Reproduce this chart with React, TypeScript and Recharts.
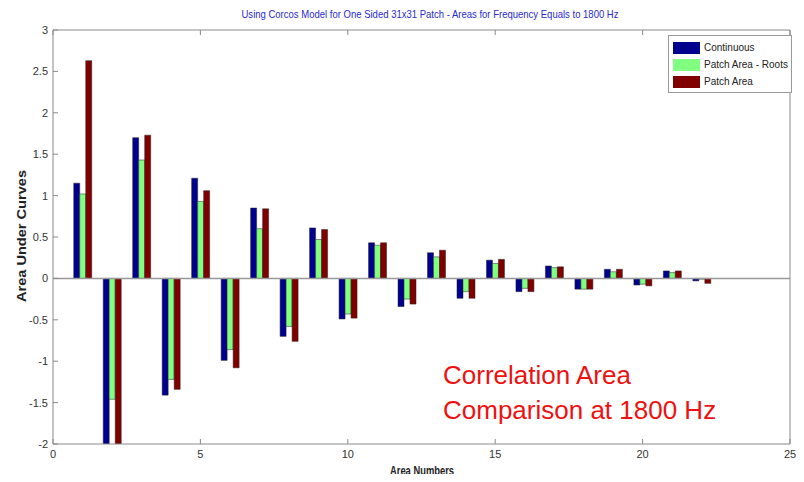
import React from 'react';
import { ComposedChart, Bar, XAxis, YAxis, ReferenceLine } from 'recharts';

const areaNumbers = [1, 2, 3, 4, 5, 6, 7, 8, 9, 10, 11, 12, 13, 14, 15, 16, 17, 18, 19, 20, 21, 22];
const continuous = [1.15, -2.1, 1.7, -1.41, 1.21, -0.99, 0.85, -0.7, 0.61, -0.49, 0.43, -0.34, 0.31, -0.24, 0.22, -0.16, 0.15, -0.13, 0.11, -0.08, 0.09, -0.03];
const patchRoots = [1.02, -1.46, 1.43, -1.22, 0.93, -0.86, 0.6, -0.58, 0.47, -0.43, 0.4, -0.25, 0.26, -0.16, 0.18, -0.12, 0.13, -0.13, 0.08, -0.07, 0.07, -0.01];
const patchArea = [2.63, -2.1, 1.73, -1.34, 1.06, -1.08, 0.84, -0.76, 0.59, -0.48, 0.43, -0.31, 0.34, -0.24, 0.23, -0.16, 0.14, -0.13, 0.11, -0.09, 0.09, -0.06];

const xTicks = [0, 5, 10, 15, 20, 25];
const yTicks = [-2, -1.5, -1, -0.5, 0, 0.5, 1, 1.5, 2, 2.5, 3];

const series = [
  { key: 'continuous', name: 'Continuous', color: '#00008f' },
  { key: 'roots', name: 'Patch Area - Roots', color: '#80ff80' },
  { key: 'patch', name: 'Patch Area', color: '#800000' },
];

const data = areaNumbers.map((n, i) => ({
  area: n,
  continuous: continuous[i],
  roots: patchRoots[i],
  patch: patchArea[i],
}));

const FONT = '"Liberation Sans", Arial, sans-serif';
const FRAME = '#8a8a8a';
const TICK_LEN = 5;

const LeftTick = (props: any) => {
  const { x, y, payload } = props;
  return (
    <g>
      <line x1={x + 5} x2={x + 5 + TICK_LEN} y1={y} y2={y} stroke={FRAME} />
      <text x={x} y={y} dy={4} textAnchor="end" fontSize={11} fill="#333" fontFamily={FONT}>
        {payload.value}
      </text>
    </g>
  );
};

const BottomTick = (props: any) => {
  const { x, y, payload } = props;
  return (
    <g>
      <line x1={x} x2={x} y1={y - 4} y2={y - 4 - TICK_LEN} stroke={FRAME} />
      <text x={x} y={y} dy={10} textAnchor="middle" fontSize={11} fill="#333" fontFamily={FONT}>
        {payload.value}
      </text>
    </g>
  );
};

const TopTick = (props: any) => {
  const { x, y } = props;
  return <line x1={x} x2={x} y1={y} y2={y + TICK_LEN} stroke={FRAME} />;
};

const RightTick = (props: any) => {
  const { x, y } = props;
  return <line x1={x} x2={x - TICK_LEN} y1={y} y2={y} stroke={FRAME} />;
};

const LegendBox = () => (
  <div
    style={{
      position: 'absolute',
      left: 668,
      top: 35,
      border: '1px solid #999',
      background: '#fff',
      width: 116,
      padding: '3px 2px 2px 4px',
      fontFamily: FONT,
      fontSize: 10,
      color: '#222',
      whiteSpace: 'nowrap',
    }}
  >
    {series.map((s) => (
      <div key={s.key} style={{ display: 'flex', alignItems: 'center', height: 17 }}>
        <span style={{ width: 27, height: 12, background: s.color, marginRight: 4, display: 'inline-block' }} />
        <span>{s.name}</span>
      </div>
    ))}
  </div>
);

export default function App() {
  return (
    <div style={{ position: 'relative', width: 804, height: 482, margin: -8, background: '#fff' }}>
      <ComposedChart
        width={804}
        height={482}
        data={data}
        margin={{ top: 29, right: 13, bottom: 0, left: 0 }}
        barGap={0}
      >
        <text
          x={430}
          y={18}
          textAnchor="middle"
          fontSize={11}
          fill="#2a2ad0"
          fontFamily={FONT}
          textLength={377}
          lengthAdjust="spacingAndGlyphs"
        >
          Using Corcos Model for One Sided 31x31 Patch - Areas for Frequency Equals to 1800 Hz
        </text>
        <XAxis
          dataKey="area"
          type="number"
          domain={[0, 25]}
          ticks={xTicks}
          interval={0}
          height={38}
          tickSize={0}
          tickMargin={4}
          tickLine={false}
          tick={<BottomTick />}
          axisLine={{ stroke: FRAME }}
        />
        <XAxis
          xAxisId="top"
          orientation="top"
          dataKey="area"
          type="number"
          domain={[0, 25]}
          ticks={xTicks}
          interval={0}
          height={1}
          tickSize={0}
          tickMargin={0}
          tickLine={false}
          tick={<TopTick />}
          axisLine={{ stroke: FRAME }}
        />
        <YAxis
          type="number"
          domain={[-2, 3]}
          ticks={yTicks}
          interval={0}
          allowDataOverflow
          width={53}
          tickSize={0}
          tickMargin={5}
          tickLine={false}
          tick={<LeftTick />}
          axisLine={{ stroke: FRAME }}
        />
        <YAxis
          yAxisId="right"
          orientation="right"
          type="number"
          domain={[-2, 3]}
          ticks={yTicks}
          interval={0}
          width={1}
          tickSize={0}
          tickMargin={0}
          tickLine={false}
          tick={<RightTick />}
          axisLine={{ stroke: FRAME }}
        />
        <ReferenceLine y={0} stroke="#999" strokeWidth={1.5} />
        {series.map((s) => (
          <Bar
            key={s.key}
            dataKey={s.key}
            name={s.name}
            fill={s.color}
            stroke="#222"
            strokeWidth={0.5}
            barSize={6}
            isAnimationActive={false}
          />
        ))}
        <text
          x={26}
          y={236}
          transform="rotate(-90 26 236)"
          textAnchor="middle"
          fontSize={12}
          fontWeight="bold"
          fill="#222"
          fontFamily={FONT}
          textLength={132}
          lengthAdjust="spacingAndGlyphs"
        >
          Area Under Curves
        </text>
      </ComposedChart>
      <LegendBox />
      <div
        style={{
          position: 'absolute',
          left: 390,
          top: 464,
          width: 62,
          fontFamily: FONT,
          fontSize: 12,
          fontWeight: 'bold',
          color: '#222',
          whiteSpace: 'nowrap',
          transform: 'scaleX(0.78)',
          transformOrigin: 'left top',
          lineHeight: '14px',
        }}
      >
        Area Numbers
      </div>
      <div
        style={{
          position: 'absolute',
          left: 443,
          top: 358,
          color: '#ee1111',
          fontFamily: 'Arial, "Liberation Sans", sans-serif',
          fontSize: 26,
          lineHeight: '35px',
          pointerEvents: 'none',
        }}
      >
        Correlation Area
        <br />
        Comparison at 1800 Hz
      </div>
    </div>
  );
}
